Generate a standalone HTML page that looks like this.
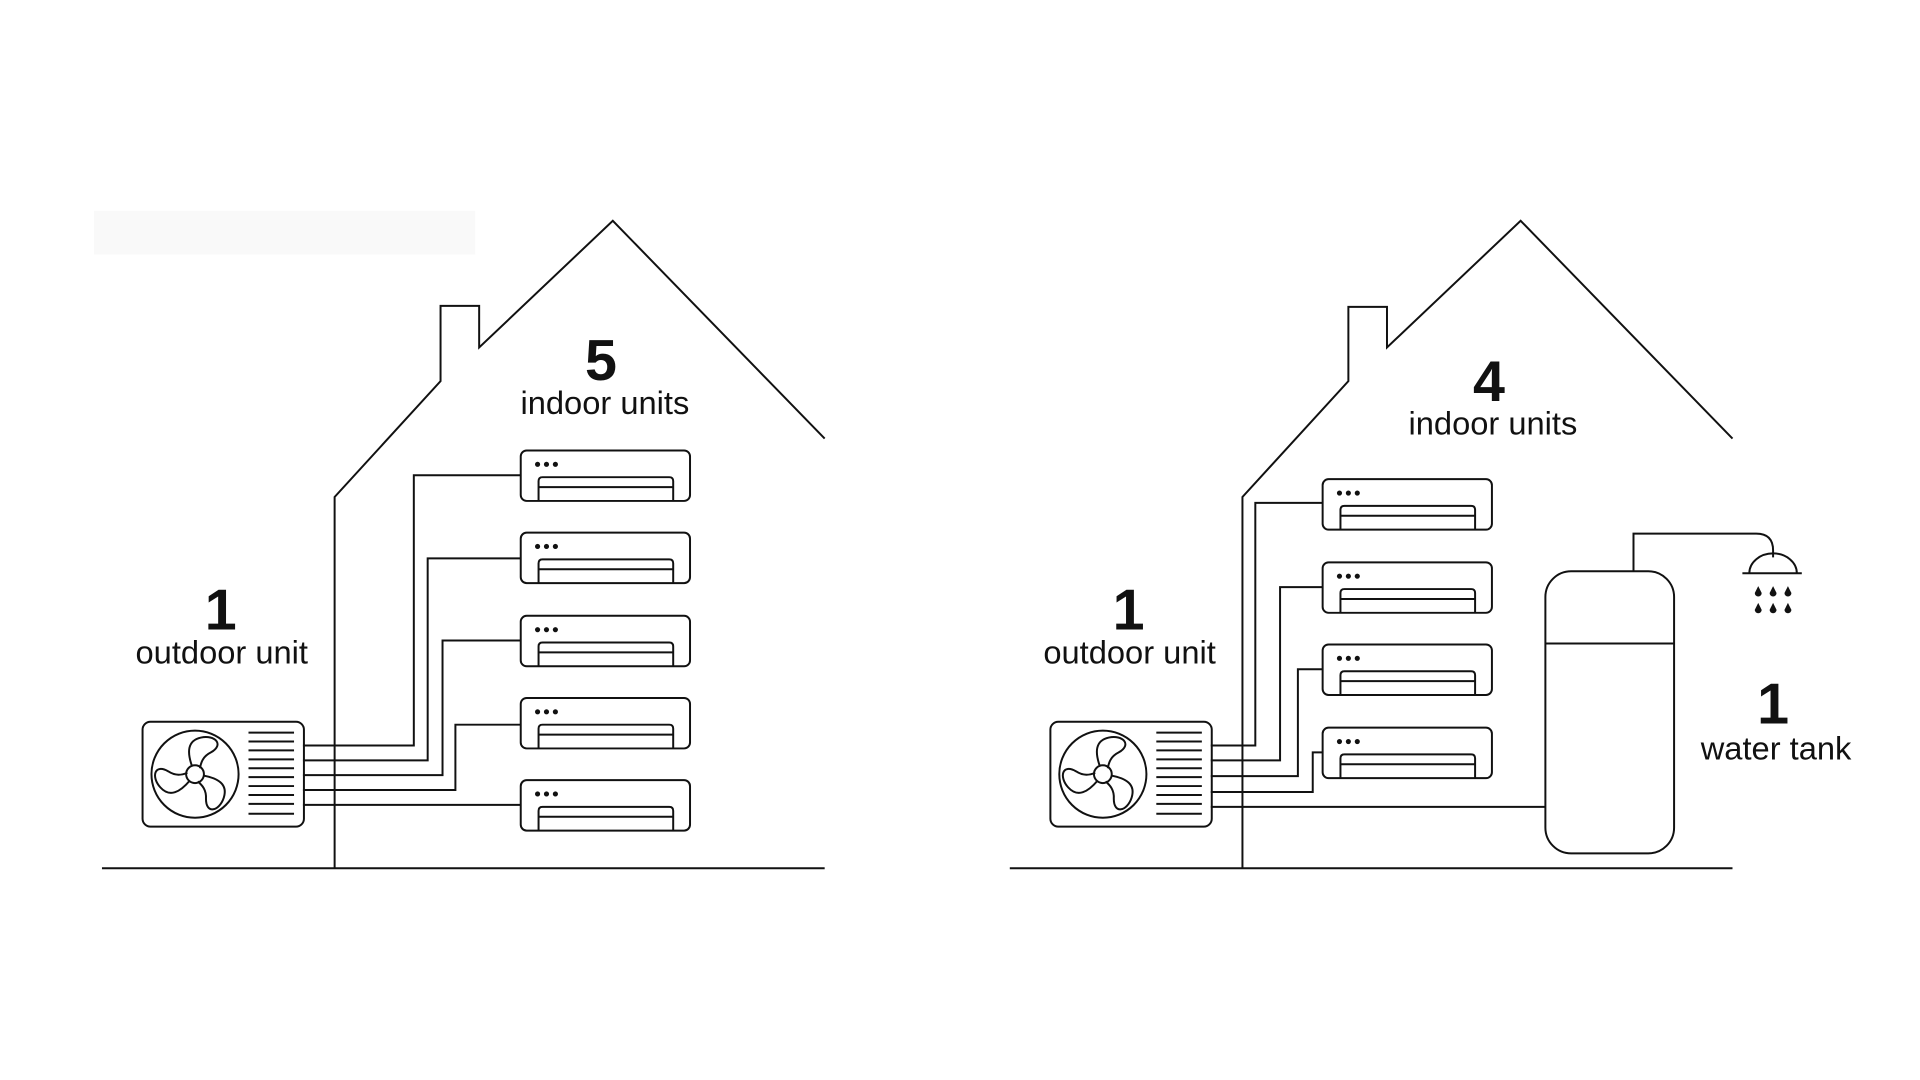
<!DOCTYPE html>
<html><head><meta charset="utf-8"><style>
html,body{margin:0;padding:0;background:#fff;}
svg{display:block}
text{font-family:"Liberation Sans",sans-serif;fill:#111}
.b{font-weight:bold;font-size:58px}
.l{font-size:33px}
</style></head><body>
<svg width="1920" height="1080" viewBox="0 0 1939.4 1090.9" preserveAspectRatio="none" xmlns="http://www.w3.org/2000/svg">
<defs>
<g id="iu" fill="none" stroke="#111" stroke-width="2">
<rect x="0" y="0" width="171" height="51" rx="6"/>
<circle cx="17" cy="14" r="2.6" fill="#111" stroke="none"/>
<circle cx="26" cy="14" r="2.6" fill="#111" stroke="none"/>
<circle cx="35" cy="14" r="2.6" fill="#111" stroke="none"/>
<path d="M18 51 V31 Q18 27 22 27 H150 Q154 27 154 31 V51"/>
<path d="M18 37 H154"/>
</g>
<g id="blade"><path d="M-3,-8 C-8,-22 -8,-34 6,-37 C20,-40 30,-30 16,-22 C8,-18 6,-12 5,-6" /></g>
<g id="ou" fill="none" stroke="#111" stroke-width="2">
<rect x="0" y="0" width="163" height="106" rx="8"/>
<circle cx="53" cy="53" r="44"/>
<circle cx="53" cy="53" r="9"/>
<g transform="translate(53,53)">
<use href="#blade"/>
<use href="#blade" transform="rotate(120)"/>
<use href="#blade" transform="rotate(240)"/>
</g>
<path d="M107 11H153M107 20H153M107 29H153M107 38H153M107 47H153M107 56H153M107 65H153M107 74H153M107 83H153M107 93H153"/>
</g>
</defs>
<rect x="95" y="213" width="385" height="44" fill="#f9f9f9"/>
<g fill="none" stroke="#111" stroke-width="2">
<path d="M103 877H833"/>
<path d="M338 877V502L445 385V309H484V351L619 223L833 443"/>
<path d="M306 753H418V480H526M306 768H432V564H526M306 783H447V647H526M306 798H460V732H526M306 813H526"/>
<path d="M1020 877H1750"/>
<path d="M1255 877V502L1362 385V310H1401V351L1536 223L1750 443"/>
<path d="M1223 753H1268V508H1336M1223 768H1293V593H1336M1223 784H1311V676H1336M1223 800H1326V760H1336M1223 815H1561"/>
<rect x="1561" y="577" width="130" height="285" rx="26"/>
<path d="M1561 650H1691"/>
<path d="M1650 577V539H1774Q1791 539 1791 556V563"/>
<path d="M1767 579A24 20 0 0 1 1815 579"/>
<path d="M1760 579H1820"/>
</g>
<g fill="#111">
<path d="M1776 592l-3.5 7a3.5 3.5 0 0 0 7 0z"/><path d="M1791 592l-3.5 7a3.5 3.5 0 0 0 7 0z"/><path d="M1806 592l-3.5 7a3.5 3.5 0 0 0 7 0z"/>
<path d="M1776 609l-3.5 7a3.5 3.5 0 0 0 7 0z"/><path d="M1791 609l-3.5 7a3.5 3.5 0 0 0 7 0z"/><path d="M1806 609l-3.5 7a3.5 3.5 0 0 0 7 0z"/>
</g>
<use href="#iu" x="526" y="455"/><use href="#iu" x="526" y="538"/><use href="#iu" x="526" y="622"/><use href="#iu" x="526" y="705"/><use href="#iu" x="526" y="788"/>
<use href="#iu" x="1336" y="484"/><use href="#iu" x="1336" y="568"/><use href="#iu" x="1336" y="651"/><use href="#iu" x="1336" y="735"/>
<use href="#ou" x="144" y="729"/>
<use href="#ou" x="1061" y="729"/>
<text class="b" x="607" y="384" text-anchor="middle">5</text>
<text class="l" x="611" y="418" text-anchor="middle">indoor units</text>
<text class="b" x="223" y="636" text-anchor="middle">1</text>
<text class="l" x="224" y="670" text-anchor="middle">outdoor unit</text>
<text class="b" x="1504" y="405" text-anchor="middle">4</text>
<text class="l" x="1508" y="439" text-anchor="middle">indoor units</text>
<text class="b" x="1140" y="636" text-anchor="middle">1</text>
<text class="l" x="1141" y="670" text-anchor="middle">outdoor unit</text>
<text class="b" x="1791" y="731" text-anchor="middle">1</text>
<text class="l" x="1794" y="767" text-anchor="middle">water tank</text>
</svg>
</body></html>
